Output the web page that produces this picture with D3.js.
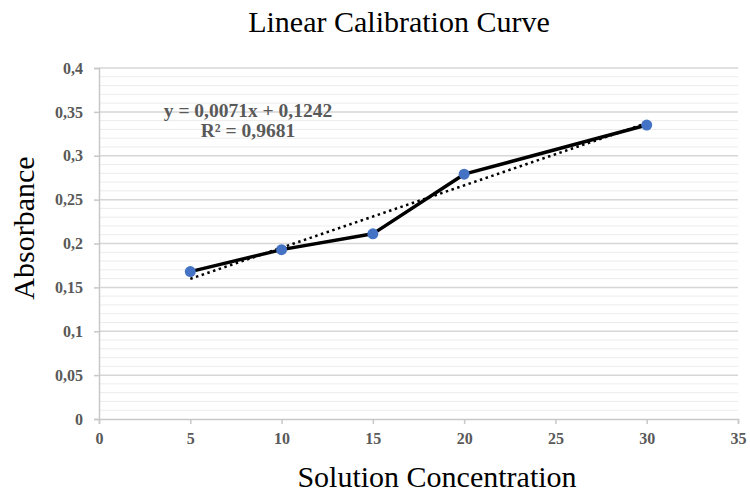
<!DOCTYPE html>
<html><head><meta charset="utf-8">
<script src="https://cdn.jsdelivr.net/npm/d3@7"></script>
<style>body{margin:0;background:#fff}</style>
</head><body>
<script>
const concentration = [5, 10, 15, 20, 30];
const absorbance = [0.168, 0.193, 0.211, 0.279, 0.335];
const xTicks = [0, 5, 10, 15, 20, 25, 30, 35];
const yTicks = [0, 0.05, 0.1, 0.15, 0.2, 0.25, 0.3, 0.35, 0.4];
const trendSlope = 0.0071, trendIntercept = 0.1242;
const equationLines = ["y = 0,0071x + 0,1242", "R² = 0,9681"];

const W = 750, H = 495;
const svg = d3.select("body").append("svg").attr("width", W).attr("height", H);
const x = d3.scaleLinear().domain([0, 35]).range([99, 738]);
const y = d3.scaleLinear().domain([0, 0.4]).range([419, 68]);
const fmt = v => String(+v.toFixed(2)).replace(".", ",");

// minor grid
const minor = d3.range(0, 0.4001, 0.01).filter(v => Math.abs(Math.round(v * 20) - v * 20) > 1e-6);
svg.append("g").selectAll("line").data(minor).join("line")
  .attr("x1", x(0)).attr("x2", x(35)).attr("y1", d => y(d)).attr("y2", d => y(d))
  .attr("stroke", "#ececec").attr("stroke-width", 1);
// major grid
svg.append("g").selectAll("line").data(yTicks.slice(1)).join("line")
  .attr("x1", x(0)).attr("x2", x(35)).attr("y1", d => y(d)).attr("y2", d => y(d))
  .attr("stroke", "#d6d6d6").attr("stroke-width", 1.5);

// axes
const yAxis = svg.append("g").attr("transform", `translate(${x(0)},0)`)
  .call(d3.axisLeft(y).tickValues(yTicks).tickFormat(fmt).tickSize(5).tickPadding(11));
const xAxis = svg.append("g").attr("transform", `translate(0,${y(0)})`)
  .call(d3.axisBottom(x).tickValues(xTicks).tickFormat(d => d).tickSize(5).tickPadding(9));
[yAxis, xAxis].forEach(a => {
  a.select(".domain").attr("stroke", "#c8c8c8").attr("stroke-width", 1.5);
  a.selectAll(".tick line").attr("stroke", "#c8c8c8").attr("stroke-width", 1.5);
  a.selectAll("text").attr("font-family", "Liberation Serif").attr("font-weight", "bold")
    .attr("font-size", 16).attr("fill", "#595959");
});

// trendline
svg.append("line")
  .attr("x1", x(5)).attr("y1", y(trendSlope * 5 + trendIntercept))
  .attr("x2", x(30)).attr("y2", y(trendSlope * 30 + trendIntercept))
  .attr("stroke", "#000").attr("stroke-width", 2.5).attr("stroke-dasharray", "2.5,3.5");

// series line
const pts = concentration.map((c, i) => [c, absorbance[i]]);
svg.append("path").datum(pts)
  .attr("d", d3.line().x(d => x(d[0])).y(d => y(d[1])))
  .attr("fill", "none").attr("stroke", "#000").attr("stroke-width", 3.5).attr("stroke-linejoin", "round");
svg.append("g").selectAll("circle").data(pts).join("circle")
  .attr("cx", d => x(d[0])).attr("cy", d => y(d[1])).attr("r", 5.5).attr("fill", "#4472C4");

// equation
svg.append("g").selectAll("text").data(equationLines).join("text")
  .attr("x", 248).attr("y", (d, i) => 117 + i * 20)
  .attr("text-anchor", "middle").attr("font-family", "Liberation Serif").attr("font-weight", "bold")
  .attr("font-size", 19.5).attr("fill", "#595959").text(d => d);

// titles
svg.append("text").attr("x", 399).attr("y", 32).attr("text-anchor", "middle")
  .attr("font-family", "Liberation Serif").attr("font-size", 30).attr("fill", "#000")
  .text("Linear Calibration Curve");
svg.append("text").attr("x", 437).attr("y", 487).attr("text-anchor", "middle")
  .attr("font-family", "Liberation Serif").attr("font-size", 30).attr("fill", "#000")
  .text("Solution Concentration");
svg.append("text").attr("transform", "translate(34,228) rotate(-90)").attr("text-anchor", "middle")
  .attr("font-family", "Liberation Serif").attr("font-size", 30).attr("fill", "#000")
  .text("Absorbance");
</script>
</body></html>
